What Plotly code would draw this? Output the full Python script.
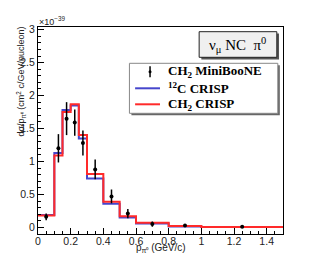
import plotly.graph_objects as go

# ---------------- data ----------------
bin_edges = [0, 0.1, 0.15, 0.2, 0.25, 0.3, 0.4, 0.5, 0.6, 0.8, 1.0, 1.5]
c12_crisp = [0.19, 1.13, 1.78, 1.85, 1.35, 0.74, 0.36, 0.15, 0.06, 0.015, 0.005]
ch2_crisp = [0.18, 1.09, 1.75, 1.87, 1.40, 0.81, 0.39, 0.17, 0.07, 0.02, 0.005]

data_x = [0.05, 0.125, 0.175, 0.225, 0.275, 0.35, 0.45, 0.55, 0.7, 0.9, 1.25]
data_y = [0.16, 1.20, 1.65, 1.59, 1.28, 0.88, 0.47, 0.21, 0.05, 0.03, 0.01]
data_err = [0.05, 0.215, 0.25, 0.2, 0.19, 0.15, 0.105, 0.07, 0.04, 0.01, 0.005]

x_ticks = [0, 0.2, 0.4, 0.6, 0.8, 1.0, 1.2, 1.4]
x_ticklabels = ["0", "0.2", "0.4", "0.6", "0.8", "1", "1.2", "1.4"]
y_ticks = [0, 0.5, 1.0, 1.5, 2.0, 2.5, 3.0]
y_ticklabels = ["0", "0.5", "1", "1.5", "2", "2.5", "3"]

legend_labels = ["CH<sub>2</sub> MiniBooNE", "<sup>12</sup>C CRISP", "CH<sub>2</sub> CRISP"]

W, H = 315, 276
ML, MR, MT, MB = 37.5, 31.5, 27, 42
PW, PH = W - ML - MR, H - MT - MB


def px(x):
    return (x - ML) / PW


def py(y):
    return (H - MB - y) / PH


def step(edges, vals):
    return list(edges), list(vals) + [vals[-1]]


fig = go.Figure()

bx, by = step(bin_edges, c12_crisp)
fig.add_trace(go.Scatter(x=bx, y=by, mode="lines", line=dict(color="#4646cc", width=2, shape="hv"),
                         showlegend=False, hoverinfo="skip"))
rx, ry = step(bin_edges, ch2_crisp)
fig.add_trace(go.Scatter(x=rx, y=ry, mode="lines", line=dict(color="#ff2a2a", width=2, shape="hv"),
                         showlegend=False, hoverinfo="skip"))
fig.add_trace(go.Scatter(x=data_x, y=data_y, mode="markers",
                         marker=dict(color="black", size=4),
                         error_y=dict(type="data", array=data_err, color="black", thickness=1.5, width=0),
                         showlegend=False))

shapes = []
annotations = []

# title box with shadow
shapes.append(dict(type="rect", xref="paper", yref="paper", x0=px(201.5), x1=px(279.5), y0=py(59.5), y1=py(33.5),
                   fillcolor="#555555", line=dict(width=0), layer="above"))
shapes.append(dict(type="rect", xref="paper", yref="paper", x0=px(199.3), x1=px(277.3), y0=py(57.3), y1=py(31.7),
                   fillcolor="#f0f0f0", line=dict(color="#222222", width=1), layer="above"))
annotations.append(dict(xref="paper", yref="paper", x=px(238.3), y=py(45), showarrow=False,
                        text="ν<sub>μ</sub> NC  π<sup>0</sup>", xanchor="center", yanchor="middle",
                        font=dict(family="Liberation Serif", size=15, color="black")))

# legend box with shadow
shapes.append(dict(type="rect", xref="paper", yref="paper", x0=px(131.3), x1=px(280.3), y0=py(115.3), y1=py(65.3),
                   fillcolor="#666666", line=dict(width=0), layer="above"))
shapes.append(dict(type="rect", xref="paper", yref="paper", x0=px(129.3), x1=px(278.3), y0=py(113.3), y1=py(63.3),
                   fillcolor="white", line=dict(color="#888888", width=1), layer="above"))
rows = [71.7, 88.3, 104.3]
# legend symbols
shapes.append(dict(type="line", xref="paper", yref="paper", x0=px(150), x1=px(150), y0=py(rows[0] - 5.5),
                   y1=py(rows[0] + 5.5), line=dict(color="black", width=1.5), layer="above"))
shapes.append(dict(type="circle", xref="paper", yref="paper", x0=px(148.5), x1=px(151.5), y0=py(rows[0] + 1.5),
                   y1=py(rows[0] - 1.5), fillcolor="black", line=dict(color="black", width=0), layer="above"))
shapes.append(dict(type="line", xref="paper", yref="paper", x0=px(135), x1=px(160), y0=py(rows[1]),
                   y1=py(rows[1]), line=dict(color="#4646cc", width=2), layer="above"))
shapes.append(dict(type="line", xref="paper", yref="paper", x0=px(135), x1=px(160), y0=py(rows[2]),
                   y1=py(rows[2]), line=dict(color="#ff2a2a", width=2), layer="above"))
for lab, r in zip(legend_labels, rows):
    annotations.append(dict(xref="paper", yref="paper", x=px(166), y=py(r), showarrow=False,
                            text="<b>" + lab + "</b>", xanchor="left", yanchor="middle",
                            font=dict(family="Liberation Serif", size=13, color="black")))

# axis titles
annotations.append(dict(xref="paper", yref="paper", x=px(20), y=py(25), showarrow=False, textangle=-90,
                        text="dσ/p<sub>π⁰</sub> (cm<sup>2</sup> c/GeV/nucleon)", xanchor="center", yanchor="top",
                        font=dict(family="Liberation Sans", size=9, color="#222222")))
annotations.append(dict(xref="paper", yref="paper", x=px(36), y=py(29), showarrow=False,
                        text="×10<sup>−39</sup>", xanchor="left", yanchor="bottom",
                        font=dict(family="Liberation Sans", size=9, color="#222222")))
annotations.append(dict(xref="paper", yref="paper", x=px(160.5), y=py(248), showarrow=False,
                        text="p<sub>π⁰</sub> (GeV/c)", xanchor="center", yanchor="middle",
                        font=dict(family="Liberation Sans", size=10, color="#222222")))

axis_common = dict(showgrid=False, zeroline=False, showline=True, linecolor="black", linewidth=1,
                   mirror=True, ticks="inside", ticklen=6, tickcolor="black", tickwidth=1,
                   tickfont=dict(family="Liberation Sans", size=10.5, color="#222222"))

fig.update_layout(
    width=W, height=H,
    margin=dict(l=ML, r=MR, t=MT, b=MB, pad=0),
    paper_bgcolor="white", plot_bgcolor="white",
    xaxis=dict(range=[0, 1.5], tickvals=x_ticks, ticktext=x_ticklabels, ticklabelstandoff=-3,
               minor=dict(dtick=0.05, ticks="inside", ticklen=3, tickcolor="black"), **axis_common),
    yaxis=dict(range=[-0.1, 3.04], tickvals=y_ticks, ticktext=y_ticklabels,
               minor=dict(dtick=0.1, ticks="inside", ticklen=3, tickcolor="black"), **axis_common),
    shapes=shapes, annotations=annotations,
    showlegend=False,
)

fig.write_html("out.html", config={"displayModeBar": False},
               post_script="document.body.style.margin='0';")
